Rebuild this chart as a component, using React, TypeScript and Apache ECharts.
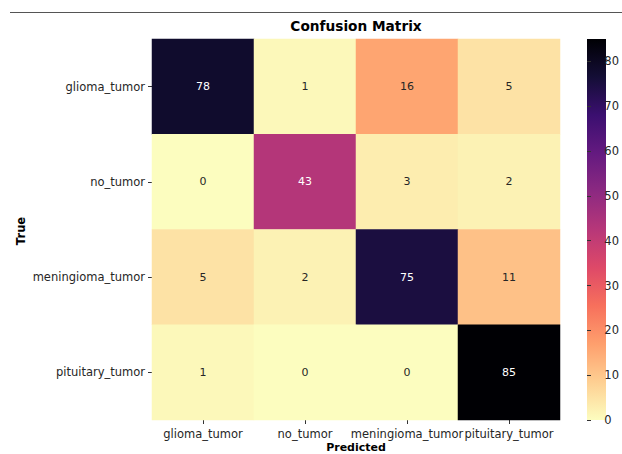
import React, { useEffect, useRef } from "react";
import * as echarts from "echarts";

const categories = ["glioma_tumor", "no_tumor", "meningioma_tumor", "pituitary_tumor"];
const matrix = [
  [78, 1, 16, 5],
  [0, 43, 3, 2],
  [5, 2, 75, 11],
  [1, 0, 0, 85],
];
const colorbarMin = 0;
const colorbarMax = 85;
const magmaR = [
  "#fcfdbf", "#fecf92", "#fe9f6d", "#f7705c", "#de4968", "#b73779",
  "#8c2981", "#641a80", "#3b0f70", "#140e36", "#000004",
];
const FONT = "DejaVu Sans";

export default function App() {
  const ref = useRef<HTMLDivElement>(null);
  useEffect(() => {
    if (!ref.current) return;
    const chart = echarts.init(ref.current, undefined, { renderer: "svg" });
    const data: any[] = [];
    matrix.forEach((row, r) =>
      row.forEach((v, c) => {
        data.push({
          value: [c, r, v],
          label: { color: v > 35 ? "#ffffff" : "#262626" },
        });
      })
    );
    const cbLeft = 587, cbTop = 39, cbW = 19, cbH = 381;
    chart.setOption({
      animation: false,
      backgroundColor: "#ffffff",
      textStyle: { fontFamily: FONT },
      title: {
        text: "Confusion Matrix",
        left: 356,
        top: 19,
        textAlign: "center",
        padding: 0,
        textStyle: { fontFamily: FONT, fontSize: 13.7, fontWeight: "bold", color: "#000" },
      },
      grid: [
        { left: 152, top: cbTop, width: 408, height: cbH },
        { left: cbLeft, top: cbTop, width: cbW, height: cbH },
      ],
      xAxis: [
        {
          type: "category",
          data: categories,
          gridIndex: 0,
          position: "bottom",
          axisLine: { show: false },
          axisTick: { show: true, alignWithLabel: true, length: 4, lineStyle: { color: "#333" } },
          axisLabel: { fontFamily: FONT, fontSize: 11.5, color: "#262626", margin: 8, interval: 0 },
          splitLine: { show: false },
        },
        { type: "value", gridIndex: 1, show: false },
      ],
      yAxis: [
        {
          type: "category",
          data: categories,
          gridIndex: 0,
          inverse: true,
          axisLine: { show: false },
          axisTick: { show: true, alignWithLabel: true, length: 4, lineStyle: { color: "#333" } },
          axisLabel: { fontFamily: FONT, fontSize: 11.5, color: "#262626", margin: 7, interval: 0 },
          splitLine: { show: false },
        },
        {
          type: "value",
          gridIndex: 1,
          position: "right",
          min: colorbarMin,
          max: colorbarMax,
          interval: 10,
          axisLine: { show: false },
          axisTick: { show: true, length: 4, lineStyle: { color: "#333" } },
          axisLabel: { fontFamily: FONT, fontSize: 11.5, color: "#262626", margin: 7, showMaxLabel: false },
          splitLine: { show: false },
        },
      ],
      visualMap: {
        type: "continuous",
        show: false,
        min: colorbarMin,
        max: colorbarMax,
        inRange: { color: magmaR },
        seriesIndex: 0,
      },
      series: [
        {
          type: "heatmap",
          xAxisIndex: 0,
          yAxisIndex: 0,
          data,
          label: {
            show: true,
            fontFamily: FONT,
            fontSize: 11,
            formatter: (p: any) => String(p.value[2]),
          },
          itemStyle: { borderWidth: 0 },
          emphasis: { disabled: true },
        },
      ],
      graphic: [
        {
          type: "line",
          shape: { x1: 10, y1: 12.5, x2: 622, y2: 12.5 },
          style: { stroke: "#555555", lineWidth: 1.2 },
        },
        {
          type: "rect",
          shape: { x: cbLeft, y: cbTop, width: cbW, height: cbH },
          style: {
            fill: new echarts.graphic.LinearGradient(
              0, 1, 0, 0,
              magmaR.map((c, i) => ({ offset: i / (magmaR.length - 1), color: c }))
            ),
          },
        },
        {
          type: "text",
          x: 21,
          y: 231,
          rotation: Math.PI / 2,
          style: {
            text: "True",
            fontFamily: FONT,
            fontSize: 11.5,
            fontWeight: "bold",
            fill: "#000",
            textAlign: "center",
            textVerticalAlign: "middle",
          },
        },
        {
          type: "text",
          x: 356,
          y: 447.5,
          style: {
            text: "Predicted",
            fontFamily: FONT,
            fontSize: 11,
            fontWeight: "bold",
            fill: "#000",
            textAlign: "center",
            textVerticalAlign: "middle",
          },
        },
      ],
    });
    return () => chart.dispose();
  }, []);
  return (
    <div
      ref={ref}
      style={{ position: "absolute", left: 0, top: 0, width: 622, height: 454, overflow: "hidden" }}
    />
  );
}
